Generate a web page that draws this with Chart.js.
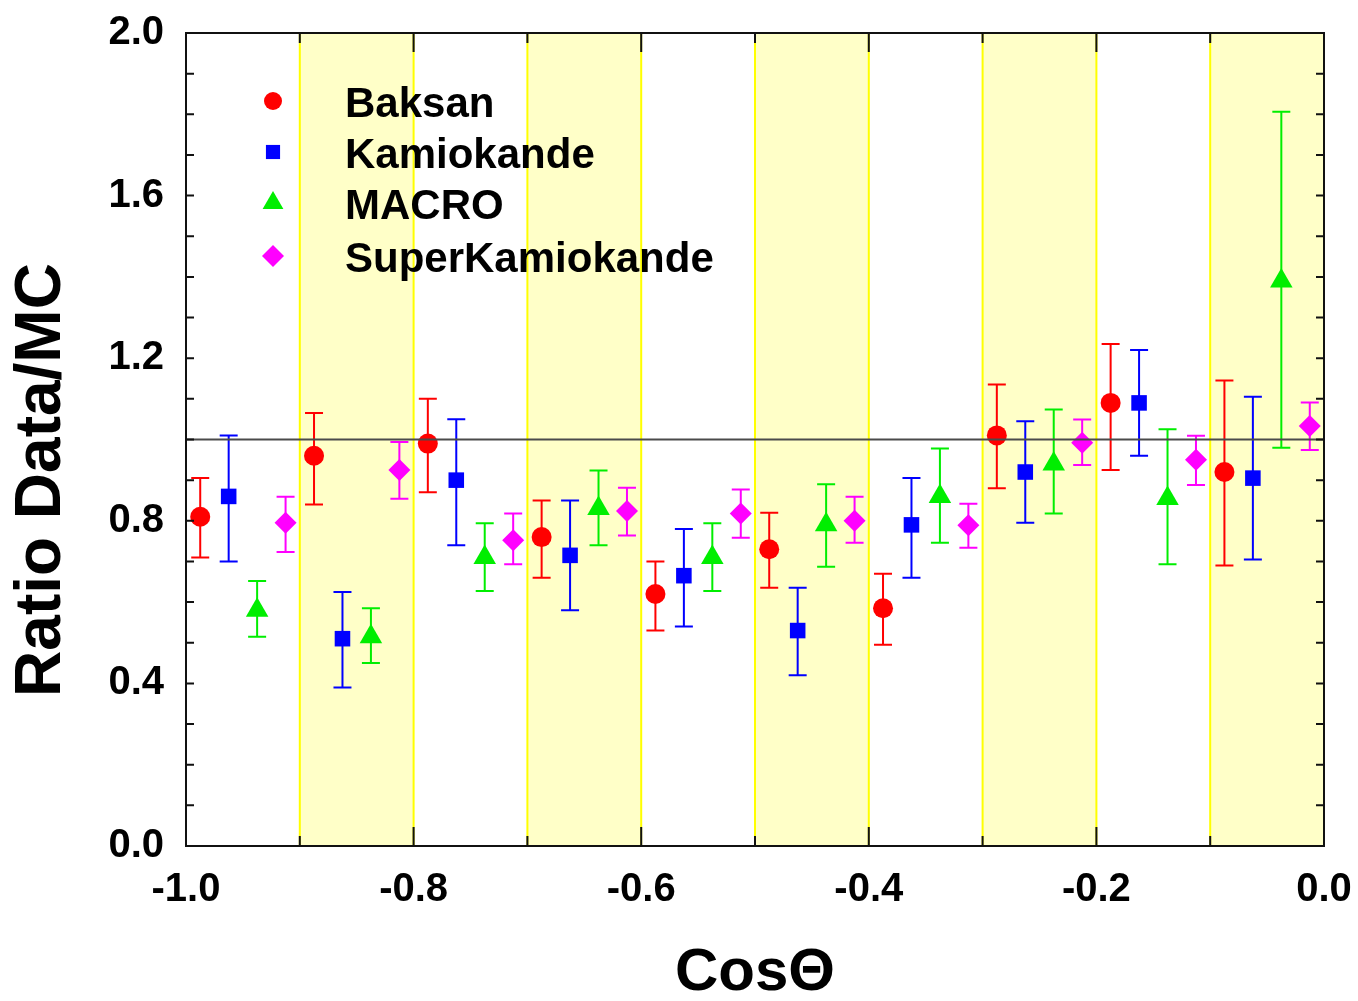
<!DOCTYPE html>
<html>
<head>
<meta charset="utf-8">
<script src="https://cdn.jsdelivr.net/npm/chart.js@4/dist/chart.umd.min.js"></script>
<style>
html,body{margin:0;padding:0;background:#fff;}
#wrap{width:1358px;height:1001px;position:relative;}
</style>
</head>
<body>
<div id="wrap"><canvas id="c" width="1358" height="1001"></canvas></div>
<script>
// ---- data ----
const seriesNames = ['Baksan', 'Kamiokande', 'MACRO', 'SuperKamiokande'];

const baksanX  = [-0.9875, -0.8875, -0.7875, -0.6875, -0.5875, -0.4875, -0.3875, -0.2875, -0.1875, -0.0875];
const baksanY  = [0.81, 0.96, 0.99, 0.76, 0.62, 0.73, 0.585, 1.01, 1.09, 0.92];
const baksanLo = [0.71, 0.84, 0.87, 0.66, 0.53, 0.635, 0.495, 0.88, 0.925, 0.69];
const baksanHi = [0.905, 1.065, 1.10, 0.85, 0.70, 0.82, 0.67, 1.135, 1.235, 1.145];

const kamX  = [-0.9625, -0.8625, -0.7625, -0.6625, -0.5625, -0.4625, -0.3625, -0.2625, -0.1625, -0.0625];
const kamY  = [0.86, 0.51, 0.90, 0.715, 0.665, 0.53, 0.79, 0.92, 1.09, 0.905];
const kamLo = [0.70, 0.39, 0.74, 0.58, 0.54, 0.42, 0.66, 0.795, 0.96, 0.705];
const kamHi = [1.01, 0.625, 1.05, 0.85, 0.78, 0.635, 0.905, 1.045, 1.22, 1.105];

const macroX  = [-0.9375, -0.8375, -0.7375, -0.6375, -0.5375, -0.4375, -0.3375, -0.2375, -0.1375, -0.0375];
const macroY  = [0.58, 0.515, 0.71, 0.83, 0.71, 0.79, 0.86, 0.94, 0.855, 1.39];
const macroLo = [0.515, 0.45, 0.627, 0.74, 0.627, 0.687, 0.746, 0.818, 0.693, 0.98];
const macroHi = [0.652, 0.585, 0.794, 0.924, 0.794, 0.89, 0.978, 1.074, 1.025, 1.806];

const skX  = [-0.9125, -0.8125, -0.7125, -0.6125, -0.5125, -0.4125, -0.3125, -0.2125, -0.1125, -0.0125];
const skY  = [0.795, 0.925, 0.752, 0.824, 0.818, 0.80, 0.789, 0.992, 0.95, 1.033];
const skLo = [0.723, 0.854, 0.693, 0.764, 0.758, 0.746, 0.734, 0.937, 0.888, 0.974];
const skHi = [0.859, 0.994, 0.818, 0.881, 0.877, 0.859, 0.842, 1.049, 1.009, 1.091];

const bandStarts = [-0.9, -0.7, -0.5, -0.3, -0.1];
const bandWidth = 0.1;
const refLineY = 1.0;

const xTickLabels = ['-1.0', '-0.8', '-0.6', '-0.4', '-0.2', '0.0'];
const yTickLabels = ['0.0', '0.4', '0.8', '1.2', '1.6', '2.0'];
const xTitle = 'CosΘ';
const yTitle = 'Ratio Data/MC';

// ---- styles ----
const colors = ['#ff0000', '#0000ff', '#00ee00', '#ff00ff'];
const styles = ['circle', 'rect', 'triangle', 'rectRot'];
const radii = [10, 11, 13, 11];

function pts(xs, ys) { return xs.map((x, i) => ({x: x, y: ys[i]})); }

const allX = [baksanX, kamX, macroX, skX];
const allY = [baksanY, kamY, macroY, skY];
const allLo = [baksanLo, kamLo, macroLo, skLo];
const allHi = [baksanHi, kamHi, macroHi, skHi];

const datasets = [{
  type: 'line',
  label: 'ref',
  data: [{x: -1, y: refLineY}, {x: 0, y: refLineY}],
  borderColor: '#4a4a4a',
  borderWidth: 2,
  pointRadius: 0,
  fill: false
}];
seriesNames.forEach((n, i) => {
  datasets.push({
    type: 'scatter',
    label: n,
    data: pts(allX[i], allY[i]),
    backgroundColor: colors[i],
    borderColor: colors[i],
    borderWidth: 0,
    pointStyle: styles[i],
    pointRadius: radii[i],
    pointHoverRadius: radii[i],
    errLo: allLo[i],
    errHi: allHi[i]
  });
});

const FONT = '"Liberation Sans", Arial, sans-serif';

const decorPlugin = {
  id: 'decor',
  beforeDatasetsDraw(chart) {
    const {ctx, chartArea: a, scales: {x, y}} = chart;
    ctx.save();
    bandStarts.forEach(s => {
      const x0 = x.getPixelForValue(s), x1 = x.getPixelForValue(s + bandWidth);
      ctx.fillStyle = '#ffffc8';
      ctx.fillRect(x0, a.top, x1 - x0, a.bottom - a.top);
      ctx.strokeStyle = '#ffff00';
      ctx.lineWidth = 2;
      ctx.beginPath();
      ctx.moveTo(x0, a.top); ctx.lineTo(x0, a.bottom);
      ctx.moveTo(x1, a.top); ctx.lineTo(x1, a.bottom);
      ctx.stroke();
    });
    ctx.restore();
  },
  beforeDatasetDraw(chart, args) {
    const ds = chart.data.datasets[args.index];
    if (!ds.errLo) return;
    const {ctx, scales: {x, y}} = chart;
    ctx.save();
    ctx.strokeStyle = ds.borderColor;
    ctx.lineWidth = 2;
    ds.data.forEach((p, i) => {
      const px = x.getPixelForValue(p.x);
      const yl = y.getPixelForValue(ds.errLo[i]);
      const yh = y.getPixelForValue(ds.errHi[i]);
      ctx.beginPath();
      ctx.moveTo(px, yl); ctx.lineTo(px, yh);
      ctx.moveTo(px - 9, yl); ctx.lineTo(px + 9, yl);
      ctx.moveTo(px - 9, yh); ctx.lineTo(px + 9, yh);
      ctx.stroke();
    });
    ctx.restore();
  },
  afterDraw(chart) {
    const {ctx, chartArea: a, scales: {x, y}} = chart;
    ctx.save();
    // frame
    ctx.strokeStyle = '#111';
    ctx.lineWidth = 2;
    ctx.strokeRect(a.left, a.top, a.right - a.left, a.bottom - a.top);
    // ticks
    ctx.beginPath();
    for (let k = 0; k <= 20; k++) {
      const py = y.getPixelForValue(k / 10);
      ctx.moveTo(a.left, py); ctx.lineTo(a.left + 8, py);
      ctx.moveTo(a.right, py); ctx.lineTo(a.right - 8, py);
    }
    for (let k = 0; k <= 10; k++) {
      const px = x.getPixelForValue(-1 + k / 10);
      const len = (k % 2 === 0) ? 19 : 10;
      ctx.moveTo(px, a.bottom); ctx.lineTo(px, a.bottom - len);
      ctx.moveTo(px, a.top); ctx.lineTo(px, a.top + len);
    }
    ctx.stroke();
    // y title
    ctx.save();
    ctx.translate(42, 480);
    ctx.rotate(-Math.PI / 2);
    ctx.fillStyle = '#000';
    ctx.font = 'bold 64px ' + FONT;
    ctx.textAlign = 'center';
    ctx.textBaseline = 'middle';
    ctx.fillText(yTitle, 0, 0);
    ctx.restore();
    // legend
    const lx = 273, tx = 345;
    const ly = [101, 152, 203, 256];
    const lr = [9, 10, 12, 11];
    seriesNames.forEach((n, i) => {
      ctx.fillStyle = colors[i];
      ctx.strokeStyle = colors[i];
      Chart.helpers.drawPoint(ctx, {pointStyle: styles[i], radius: lr[i], borderWidth: 0, rotation: 0}, lx, ly[i]);
      ctx.fillStyle = '#000';
      ctx.font = 'bold 42px ' + FONT;
      ctx.textBaseline = 'alphabetic';
      ctx.textAlign = 'left';
      ctx.fillText(n, tx, ly[i] + 16);
    });
    ctx.restore();
  }
};

new Chart(document.getElementById('c'), {
  data: {datasets: datasets},
  options: {
    responsive: false,
    animation: false,
    events: [],
    layout: {padding: {top: 33, right: 34, left: 0, bottom: 0}},
    plugins: {legend: {display: false}, tooltip: {enabled: false}},
    scales: {
      x: {
        type: 'linear',
        min: -1, max: 0,
        afterFit(s) { s.height = 155; s.paddingLeft = 0; s.paddingRight = 0; },
        afterBuildTicks(s) { s.ticks = xTickLabels.map(t => ({value: parseFloat(t)})); },
        grid: {display: false, drawTicks: false},
        border: {display: false},
        ticks: {
          autoSkip: false, maxRotation: 0, padding: 20,
          color: '#000',
          font: {family: FONT, size: 40, weight: 'bold'},
          callback: (v) => { const i = xTickLabels.findIndex(t => Math.abs(parseFloat(t) - v) < 1e-6); return i >= 0 ? xTickLabels[i] : ''; }
        },
        title: {
          display: true, text: xTitle, color: '#000',
          font: {family: FONT, size: 60, weight: 'bold', lineHeight: 1},
          padding: {top: 0, bottom: -2}
        }
      },
      y: {
        type: 'linear',
        min: 0, max: 2,
        afterFit(s) { s.width = 186; s.paddingTop = 0; s.paddingBottom = 0; },
        afterBuildTicks(s) { s.ticks = yTickLabels.map(t => ({value: parseFloat(t)})); },
        grid: {display: false, drawTicks: false},
        border: {display: false},
        ticks: {
          autoSkip: false, padding: 22,
          color: '#000',
          font: {family: FONT, size: 40, weight: 'bold'},
          callback: (v) => { const i = yTickLabels.findIndex(t => Math.abs(parseFloat(t) - v) < 1e-6); return i >= 0 ? yTickLabels[i] : ''; }
        },
        title: {display: false}
      }
    }
  },
  plugins: [decorPlugin]
});
</script>
</body>
</html>
